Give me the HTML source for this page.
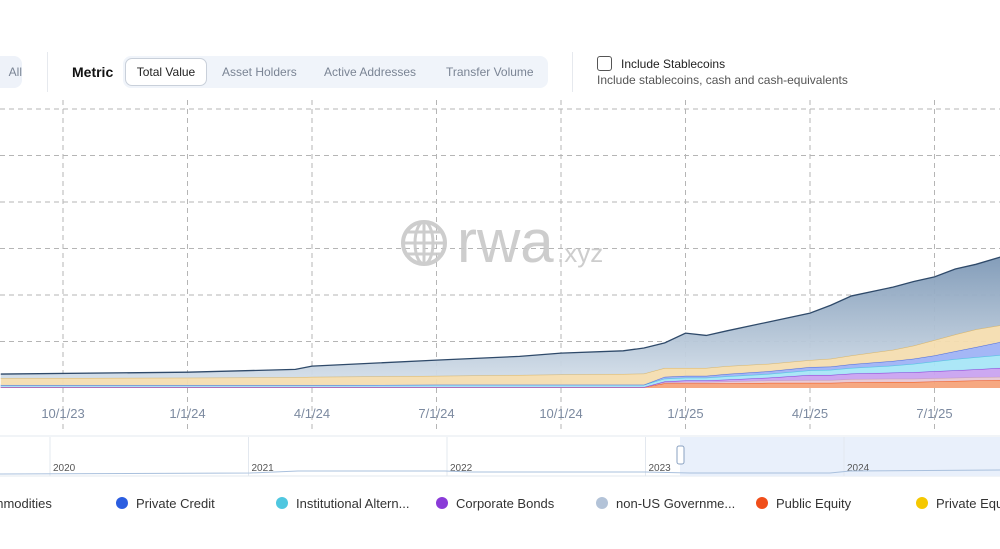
<!DOCTYPE html>
<html><head><meta charset="utf-8"><style>
body{margin:0;width:1000px;height:549px;overflow:hidden;background:#fff;font-family:"Liberation Sans",sans-serif;position:relative}
.abs{position:absolute}
.seg{font-size:12px;color:#7a8494;top:65px}
</style></head><body>
<div class="abs" style="left:-10px;top:56px;width:32px;height:32px;background:#eef2f9;border-radius:8px;font-size:12px;color:#7a8494;line-height:32px;text-align:right;padding-right:0">All</div>
<div class="abs" style="left:47px;top:52px;width:1px;height:40px;background:#e6e9ee"></div>
<div class="abs" style="left:72px;top:64px;font-size:14px;font-weight:bold;color:#111">Metric</div>
<div class="abs" style="left:123px;top:56px;width:425px;height:32px;background:#f0f4fa;border-radius:8px"></div>
<div class="abs" style="left:125px;top:58px;width:80px;height:26px;background:#fff;border:1px solid #c9d0da;border-radius:7px;font-size:12px;color:#222;line-height:26px;text-align:center">Total Value</div>
<div class="abs seg" style="left:222px">Asset Holders</div>
<div class="abs seg" style="left:324px">Active Addresses</div>
<div class="abs seg" style="left:446px">Transfer Volume</div>
<div class="abs" style="left:572px;top:52px;width:1px;height:40px;background:#e6e9ee"></div>
<div class="abs" style="left:597px;top:56px;width:13px;height:13px;border:1.5px solid #555;border-radius:3px"></div>
<div class="abs" style="left:621px;top:57px;font-size:12px;color:#222">Include Stablecoins</div>
<div class="abs" style="left:597px;top:73px;font-size:12px;color:#555">Include stablecoins, cash and cash-equivalents</div>

<svg class="abs" style="left:0;top:0" width="1000" height="549" id="chart">
<defs><linearGradient id="gg" x1="0" y1="0" x2="0" y2="1"><stop offset="0" stop-color="#7d98b6"/><stop offset="1" stop-color="#d2dde8"/></linearGradient></defs>
<g id="grid"></g>
<g id="areas"></g>
<g opacity="0.9">
<circle cx="424" cy="243" r="21" fill="none" stroke="#c8c8c8" stroke-width="4"/>
<ellipse cx="424" cy="243" rx="9" ry="21" fill="none" stroke="#c8c8c8" stroke-width="3"/>
<line x1="403" y1="243" x2="445" y2="243" stroke="#c8c8c8" stroke-width="3"/>
<line x1="424" y1="222" x2="424" y2="264" stroke="#c8c8c8" stroke-width="3"/>
<line x1="407" y1="232" x2="441" y2="232" stroke="#c8c8c8" stroke-width="3"/>
<line x1="407" y1="254" x2="441" y2="254" stroke="#c8c8c8" stroke-width="3"/>
<text x="457" y="262" font-size="60" fill="#c8c8c8" font-family="Liberation Sans">rwa</text>
<text x="557" y="262" font-size="26" fill="#c8c8c8" font-family="Liberation Sans">.xyz</text>
</g>
<g id="xlabels"></g>
<g>
<rect x="-1" y="436" width="1002" height="40" fill="#fff" stroke="#e3e8ef"/>
<rect x="680" y="437" width="320" height="39" fill="#e9f0fb"/>
<g id="navyears"></g>
<path d="M0 474 L250 473 L298 471 L445 471 L470 472 L520 472 L645 472 L690 473 L830 473 L850 471 L1000 470" fill="none" stroke="#a9c0dd" stroke-width="1"/>
<rect x="677" y="446" width="7" height="18" rx="2" fill="#fff" stroke="#8aa2c2"/>
</g>
<g id="legend"></g>
</svg>
<script>
const months=[1.5,6,8.6,9,12,14,15,16.5,17,17.5,18,18.5,19,20,21,21.5,22,23,23.5,24,24.5,25,25.6];
const publicEquity=[.02,.02,.02,.02,.02,.02,.02,.02,.02,.10,.10,.10,.10,.11,.11,.11,.12,.13,.13,.14,.15,.16,.17];
const nonUsGov=[0,0,0,0,0,0,0,0,0,.02,.03,.03,.04,.05,.06,.06,.07,.07,.07,.07,.07,.07,.07];
const corporateBonds=[0,0,0,0,0,0,0,0,0,.02,.03,.03,.04,.06,.11,.11,.12,.13,.14,.15,.16,.17,.19];
const institutional=[.04,.04,.04,.04,.05,.05,.05,.05,.05,.06,.06,.06,.07,.08,.10,.11,.12,.15,.18,.21,.24,.26,.28];
const privateCredit=[0,0,0,0,0,0,0,0,0,.04,.04,.04,.05,.06,.07,.07,.08,.10,.11,.13,.17,.22,.28];
const commodities=[.15,.16,.17,.18,.19,.21,.22,.23,.24,.19,.17,.17,.17,.16,.15,.17,.19,.24,.28,.33,.36,.38,.36];
const treasuries=[.09,.12,.17,.23,.34,.40,.46,.50,.55,.54,.75,.70,.76,.90,1.01,1.15,1.28,1.35,1.38,1.36,1.41,1.40,1.47];
const xTickLabels=['10/1/23','1/1/24','4/1/24','7/1/24','10/1/24','1/1/25','4/1/25','7/1/25'];
const xTickMonths=[3,6,9,12,15,18,21,24];
const yTicks=[0,1,2,3,4,5,6];
const navYears=['2020','2021','2022','2023','2024'];
const legendNames=['Commodities','Private Credit','Institutional Altern...','Corporate Bonds','non-US Governme...','Public Equity','Private Equ'];
const legendColors=['#e8b84a','#2b5de0','#4fc7e0','#8a3bd8','#b3c3d8','#f04e1a','#f5c800'];
const NS='http://www.w3.org/2000/svg';
const X=m=>63+(m-3)*41.5, Y=v=>388-v*46.5;
function mk(tag,parent,attrs){const e=document.createElementNS(NS,tag);for(const k in attrs)e.setAttribute(k,attrs[k]);parent.appendChild(e);return e;}
const grid=document.getElementById('grid');
yTicks.forEach(t=>{if(t===0)return;const l=mk('line',grid,{x1:0,x2:1000,y1:Y(t),y2:Y(t),stroke:'#b5b5b5','stroke-dasharray':'5,4'});

});
const xl=document.getElementById('xlabels');
xTickMonths.forEach((m,i)=>{const l=mk('line',grid,{x1:X(m),x2:X(m),y1:100,y2:432,stroke:'#b5b5b5','stroke-dasharray':'5,4'});


const t=mk('text',xl,{x:X(m),y:418,'text-anchor':'middle','font-size':13,fill:'#7c8aa0'});t.textContent=xTickLabels[i];

});
const layers=[[publicEquity,'#f5a37a','#f0561e','public-equity'],[nonUsGov,'#e8c8d4','#c9a0b8','non-us-government'],[corporateBonds,'#c9a3f0','#8a3bd8','corporate-bonds'],[institutional,'#a8e6f7','#4fc7e0','institutional-alternative'],[privateCredit,'#9fb3f5','#4a6be0','private-credit'],[commodities,'#f4ddb0','#d9b66a','commodities'],[treasuries,'url(#gg)','#2f4a6a','treasuries']];
const areas=document.getElementById('areas');
let base=months.map(()=>0);
const xs=months.map(m=>Math.max(-2,Math.min(1002,X(m))));
layers.forEach(([vals,fill,stroke,name])=>{const top=base.map((b,i)=>b+vals[i]);
let d='M'+xs.map((x,i)=>x+' '+Y(top[i])).join(' L');
let back=xs.map((x,i)=>x+' '+Y(base[i])).reverse().join(' L');
const a=mk('path',areas,{d:d+' L'+back+' Z',fill:fill,opacity:0.95});


const l=mk('path',areas,{d:d,fill:'none',stroke:stroke,'stroke-width':name==='treasuries'?1.3:1});


base=top;});
const ny=document.getElementById('navyears');
navYears.forEach((y,i)=>{const x=50+i*198.5;const l=mk('line',ny,{x1:x,x2:x,y1:437,y2:476,stroke:'#e3e8ef'});


const t=mk('text',ny,{x:x+3,y:471,'font-size':10,fill:'#555'});t.textContent=y;

});
const lg=document.getElementById('legend');
legendNames.forEach((n,i)=>{const x=-38+i*160;
const c=mk('circle',lg,{cx:x,cy:503,r:6,fill:legendColors[i]});


const t=mk('text',lg,{x:x+14,y:508,'font-size':13,fill:'#333'});t.textContent=n;

});
</script>
</body></html>
